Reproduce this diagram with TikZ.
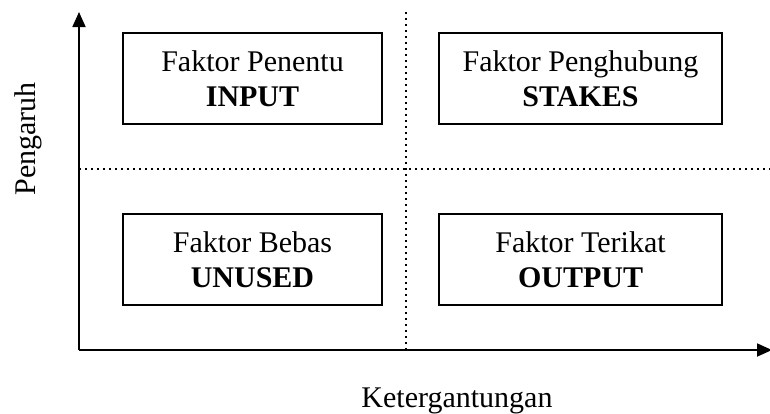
\documentclass[tikz,border=0pt]{standalone}
\usepackage{fontspec}
\setmainfont{Liberation Serif}
\usetikzlibrary{arrows.meta}

\tikzset{
  faktor/.style={draw,line width=0.8pt,minimum height=45.5pt,align=center,
    font=\fontsize{15pt}{17.5pt}\selectfont,inner sep=0pt},
  sumbu/.style={line width=0.9pt,-{Triangle[length=7.5pt,width=6.5pt]}},
  batas/.style={line width=1pt,dotted},
}

\begin{document}
\begin{tikzpicture}[x=0.5pt,y=-0.5pt]
      \useasboundingbox (0,0) rectangle (770,413);
      \coordinate (o) at (79,350);
      \coordinate (atas) at (79,12);
      \coordinate (kanan) at (772,350);
      \coordinate (v1) at (406,12);
      \coordinate (v2) at (406,350);
      \coordinate (h1) at (79,169);
      \coordinate (h2) at (770,169);
      \draw
        (252.5,78.5) node[faktor,minimum width=129.5pt] (penentu){Faktor Penentu\\\textbf{INPUT}}
        (580.5,78.5) node[faktor,minimum width=141.5pt] (penghubung){Faktor Penghubung\\\textbf{STAKES}}
        (252.5,259.5) node[faktor,minimum width=129.5pt] (bebas){Faktor Bebas\\\textbf{UNUSED}}
        (580.5,259.5) node[faktor,minimum width=141.5pt] (terikat){Faktor Terikat\\\textbf{OUTPUT}};
      \begin{scope}[font=\fontsize{15pt}{17.5pt}\selectfont,inner sep=0pt]
        \node[rotate=90,anchor=base west] (pengaruh) at (35,196) {Pengaruh};
        \node[anchor=base] (ketergantungan) at (457,407) {Ketergantungan};
      \end{scope}
      \draw[batas] (v1) -- (v2);
      \draw[batas] (h1) -- (h2);
      \draw[sumbu] (o) -- (atas);
      \draw[sumbu] (o) -- (kanan);
    \end{tikzpicture}
\end{document}
